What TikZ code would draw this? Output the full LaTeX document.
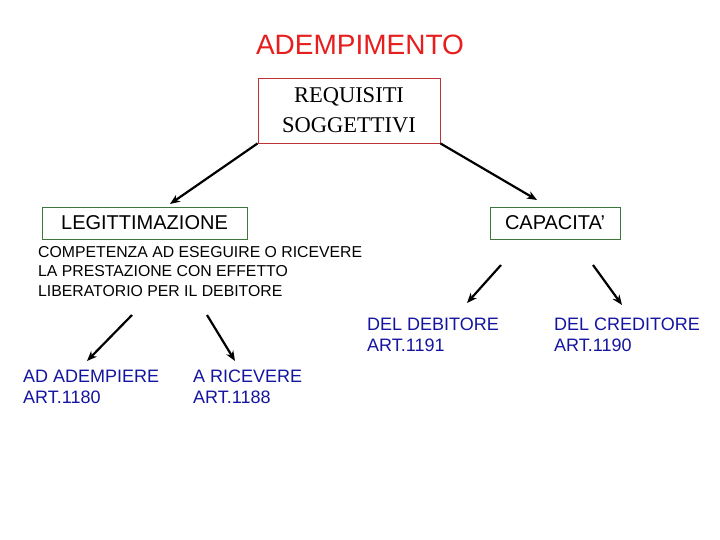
\documentclass[tikz,border=0pt]{standalone}
\usepackage{fontspec}
\setmainfont{Liberation Sans}
\newfontfamily\seriffont{Liberation Serif}
\usetikzlibrary{arrows.meta}
\definecolor{titlered}{RGB}{230,30,30}
\definecolor{boxred}{RGB}{192,50,50}
\definecolor{boxgreen}{RGB}{60,120,60}
\definecolor{artblue}{RGB}{20,20,160}
\tikzset{
  arr/.style={line width=2.2pt, -{Stealth[length=10pt,width=8pt,inset=3pt]}},
  bluetxt/.style={anchor=north west, inner sep=0pt, align=left, text=artblue,
    font=\fontsize{18}{21}\selectfont},
  boxnode/.style={draw, line width=0.8pt, inner sep=0pt, align=center}
}
\begin{document}
\begin{tikzpicture}[x=1pt,y=-1pt]
\useasboundingbox (0,0) rectangle (720,540);
\node[text=titlered, font=\fontsize{28}{32}\selectfont] (title) at (360,45) {ADEMPIMENTO};
\node[boxnode, draw=boxred, minimum width=182pt, minimum height=65pt,
  font=\seriffont\fontsize{22.5}{30}\selectfont] (req) at (349,110.5) {REQUISITI\\SOGGETTIVI};
\node[boxnode, draw=boxgreen, minimum width=205pt, minimum height=32pt,
  font=\fontsize{20}{24}\selectfont] (leg) at (144.5,223) {LEGITTIMAZIONE};
\node[boxnode, draw=boxgreen, minimum width=130pt, minimum height=32pt,
  font=\fontsize{20}{24}\selectfont] (cap) at (555,223) {CAPACITA’};
\node[anchor=north west, inner sep=0pt, align=left, font=\fontsize{15.8}{19.5}\selectfont] (comp) at (38,246)
  {COMPETENZA AD ESEGUIRE O RICEVERE\\LA PRESTAZIONE CON EFFETTO\\LIBERATORIO PER IL DEBITORE};
\node[bluetxt] (deb) at (367,317.5) {DEL DEBITORE\\ART.1191};
\node[bluetxt] (cre) at (554,317.5) {DEL CREDITORE\\ART.1190};
\node[bluetxt] (ad) at (23,369.5) {AD ADEMPIERE\\ART.1180};
\node[bluetxt] (ric) at (193,369.5) {A RICEVERE\\ART.1188};
\coordinate (s1) at (132,315);
\coordinate (e1) at (87,361);
\coordinate (s2) at (207,315);
\coordinate (e2) at (235,361);
\coordinate (s3) at (501,265);
\coordinate (e3) at (467,303);
\coordinate (s4) at (593,265);
\coordinate (e4) at (622,305);
\coordinate (e5) at (170,204);
\coordinate (e6) at (537,200);
\draw[arr] (req.south west) -- (e5);
\draw[arr] (req.south east) -- (e6);
\draw[arr] (s1) -- (e1);
\draw[arr] (s2) -- (e2);
\draw[arr] (s3) -- (e3);
\draw[arr] (s4) -- (e4);
\end{tikzpicture}
\end{document}
